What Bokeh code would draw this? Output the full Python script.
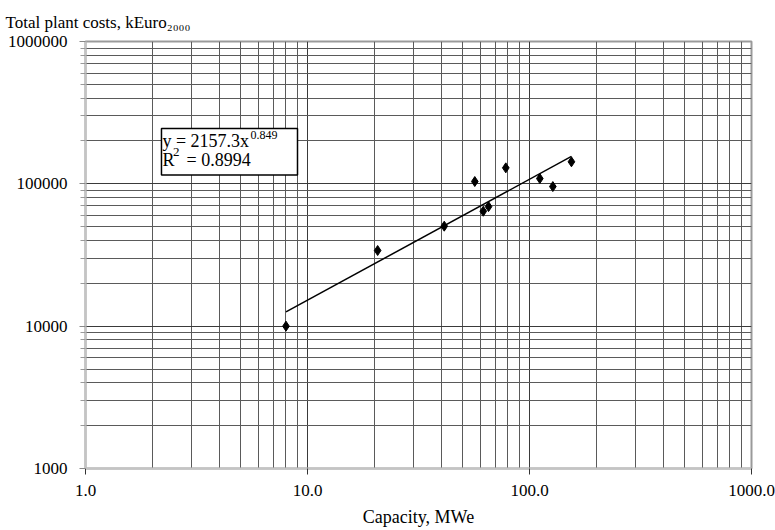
import numpy as np
from bokeh.plotting import figure
from bokeh.models import FixedTicker, PrintfTickFormatter, Label, BoxAnnotation, Title
from bokeh.embed import file_html
from bokeh.resources import INLINE

# ---- data ----
capacity_mwe = [8.0, 20.7, 41.3, 56.7, 61.9, 65.4, 78.2, 111.3, 127.4, 154.5]
cost_keuro = [10000, 34000, 50400, 103800, 64200, 69200, 129500, 108900, 95700, 142800]

fit_a = 2157.3
fit_b = 0.849
fit_r2 = 0.8994

x_ticks = [1, 10, 100, 1000]
y_ticks = [1000, 10000, 100000, 1000000]

x_title = "Capacity, MWe"
y_title = "Total plant costs, kEuro\u2082\u2080\u2080\u2080"

FONT = "Liberation Serif"

p = figure(width=775, height=530, x_axis_type="log", y_axis_type="log",
           x_range=(1, 1000), y_range=(1000, 1000000),
           output_backend="svg", toolbar_location=None,
           min_border_left=85, min_border_right=24,
           min_border_top=41, min_border_bottom=62)

p.background_fill_color = "white"
p.border_fill_color = "white"
p.outline_line_color = "#9a9a9a"
p.outline_line_width = 2

t = Title(text=y_title, align="left", offset=-80, text_font=FONT,
          text_font_size="17px", text_font_style="normal", text_color="black",
          standoff=19)
p.add_layout(t, "above")

x_minor = [m * d for d in (1, 10, 100) for m in range(2, 10)]
y_minor = [m * d for d in (1000, 10000, 100000) for m in range(2, 10)]

p.xaxis.ticker = FixedTicker(ticks=x_ticks, minor_ticks=x_minor)
p.yaxis.ticker = FixedTicker(ticks=y_ticks, minor_ticks=y_minor)
p.xaxis.formatter = PrintfTickFormatter(format="%.1f")
p.yaxis.formatter = PrintfTickFormatter(format="%d")

for ax in (p.xaxis, p.yaxis):
    ax.major_label_text_font = FONT
    ax.major_label_text_font_size = "17px"
    ax.major_label_text_color = "black"
    ax.axis_line_color = "#c4c4c4"
    ax.axis_line_width = 2
    ax.major_tick_in = 0
    ax.major_tick_out = 6
    ax.minor_tick_in = 0

p.xaxis.major_tick_line_color = "#333333"
p.xaxis.minor_tick_line_color = None
p.xaxis.major_label_standoff = 10
p.xaxis.axis_label = x_title
p.xaxis.axis_label_text_font = FONT
p.xaxis.axis_label_text_font_size = "18px"
p.xaxis.axis_label_text_font_style = "normal"
p.xaxis.axis_label_text_color = "black"
p.xaxis.axis_label_standoff = 8

p.yaxis.major_tick_line_color = "#888888"
p.yaxis.minor_tick_line_color = "#999999"
p.yaxis.minor_tick_out = 5
p.yaxis.major_label_standoff = 12

p.xgrid.grid_line_color = "#3a3a3a"
p.xgrid.minor_grid_line_color = "#5a5a5a"
p.ygrid.grid_line_color = "#3a3a3a"
p.ygrid.minor_grid_line_color = "#5a5a5a"
p.xgrid.grid_line_width = 1
p.ygrid.grid_line_width = 1

# trend line (power fit) across the data range
fit_x = np.array([min(capacity_mwe), max(capacity_mwe)])
fit_y = fit_a * fit_x ** fit_b
p.line(fit_x, fit_y, line_color="black", line_width=1.5)

p.scatter(capacity_mwe, cost_keuro, marker="diamond", size=10,
          fill_color="black", line_color="black")

# equation box
box = BoxAnnotation(left=2.199, right=9.015, bottom=115300, top=244700,
                    fill_color="white", fill_alpha=1.0,
                    line_color="black", line_width=1.5, line_alpha=1.0)
p.add_layout(box)

def lab(x, y, text, size):
    p.add_layout(Label(x=x, y=y, text=text, text_font=FONT,
                       text_font_size=size, text_color="black",
                       text_baseline="alphabetic", text_align="left"))

lab(2.22, 201400, "y = %.1fx" % fit_a, "18px")
lab(5.54, 221000, "%.3f" % fit_b, "12px")
lab(2.22, 146500, "R", "18px")
lab(2.48, 168600, "2", "13px")
lab(2.85, 146500, "= %.4f" % fit_r2, "18px")

open("out.html", "w").write(file_html(p, INLINE))
